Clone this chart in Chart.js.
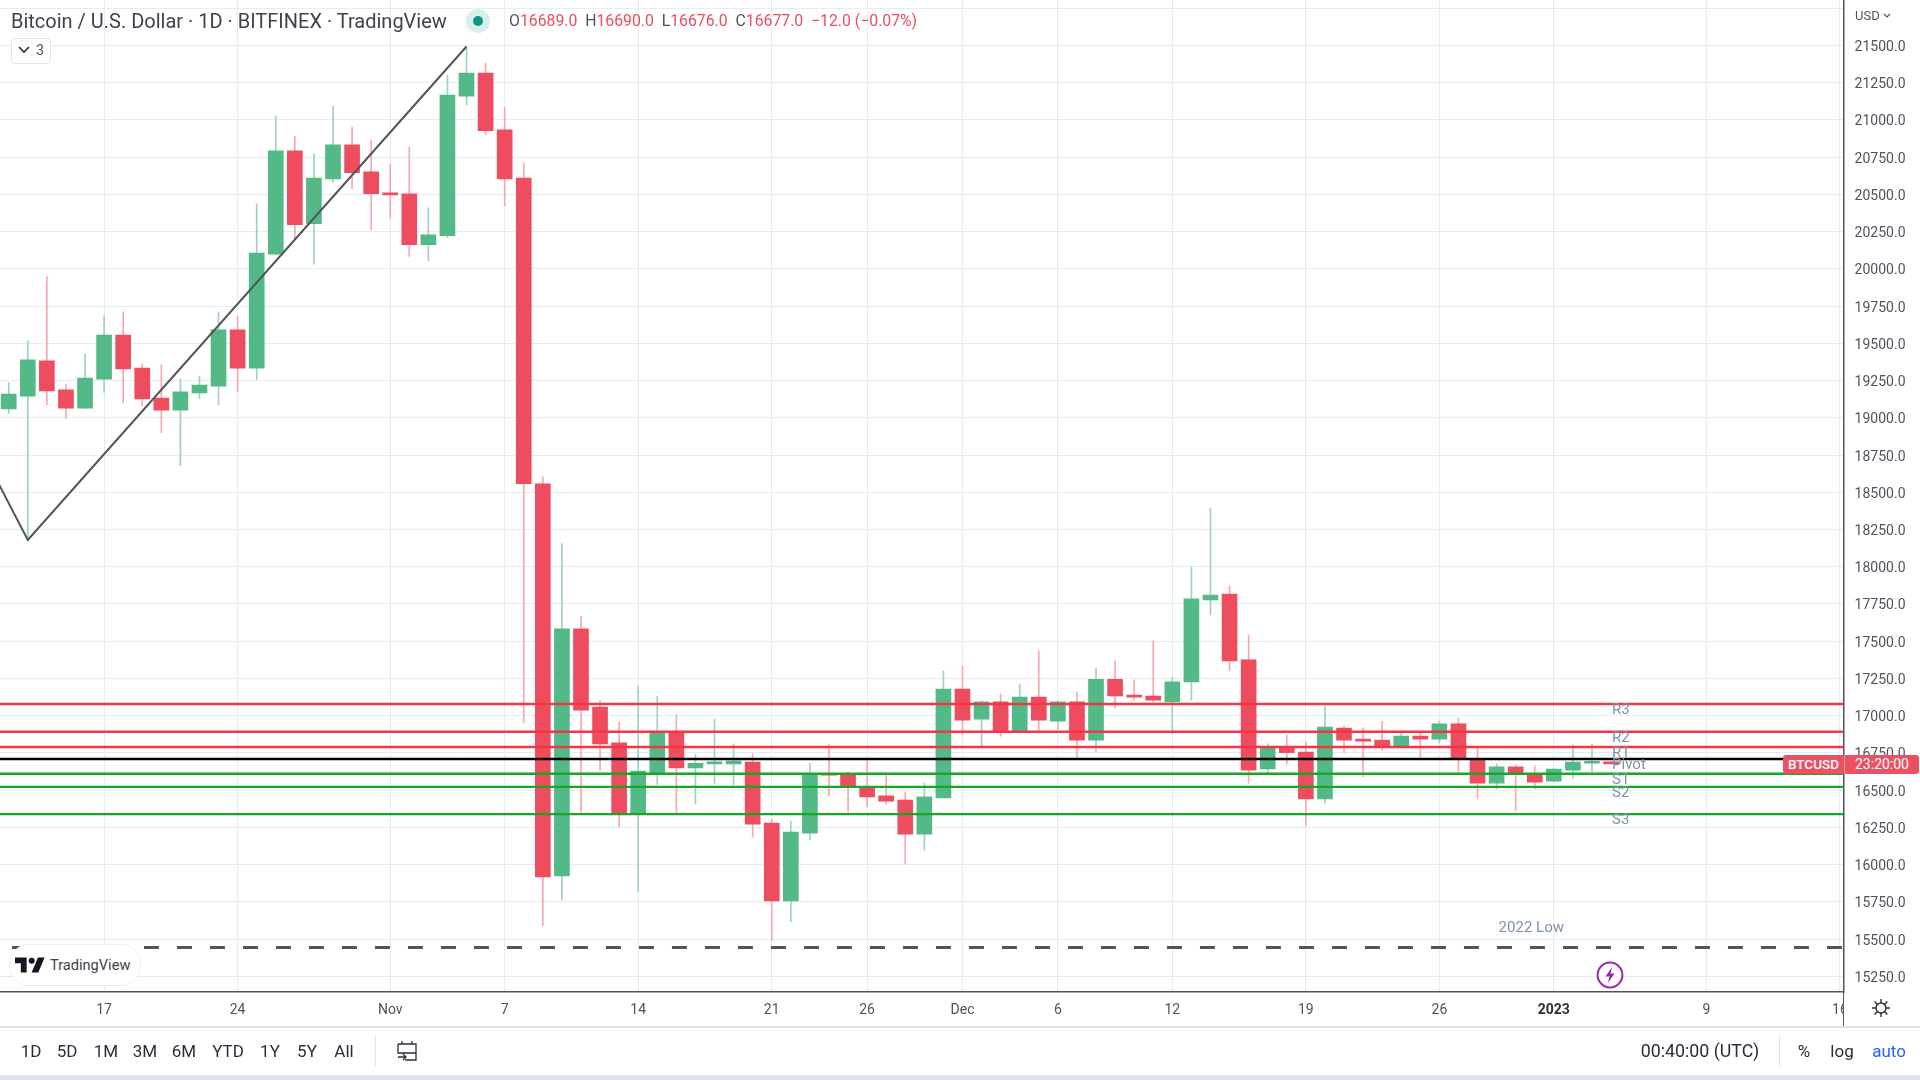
<!DOCTYPE html>
<html>
<head>
<meta charset="utf-8">
<title>BTCUSD</title>
<script src="https://cdn.jsdelivr.net/npm/chart.js@4/dist/chart.umd.js"></script>
<style>
    html, body { margin: 0; padding: 0; background: #fff; width: 1920px; height: 1080px; overflow: hidden; }
    body { position: relative; font-family: Roboto, sans-serif; color: #50535e; }
    canvas { position: absolute; left: 0; top: 0; }
    .abs { position: absolute; white-space: nowrap; }
    .red { color: #ee4d5f; }
    .tool { position: absolute; top: 1040px; font-size: 17px; line-height: 22px; color: #2a2e39; transform: translateX(-50%); }
</style>
</head>
<body>
<canvas id="chart" width="1920" height="1080"></canvas>

<!-- Legend -->
<div class="abs" style="left:11px;top:10px;font-size:20px;line-height:22px;color:#3f434d;">Bitcoin / U.S. Dollar · 1D · BITFINEX · TradingView</div>
<div class="abs" style="left:466px;top:9px;width:24px;height:24px;border-radius:12px;background:#d9efec;"></div>
<div class="abs" style="left:473px;top:16px;width:10px;height:10px;border-radius:5px;background:#089981;"></div>
<div class="abs" style="left:509px;top:11px;font-size:15.8px;line-height:20px;">O<span class="red">16689.0</span>&nbsp; H<span class="red">16690.0</span>&nbsp; L<span class="red">16676.0</span>&nbsp; C<span class="red">16677.0</span>&nbsp; <span class="red">−12.0 (−0.07%)</span></div>
<div class="abs" style="left:11px;top:38px;width:38px;height:24px;border:1px solid #e0e3eb;border-radius:4px;background:#fff;"></div>
<svg class="abs" style="left:18px;top:46px" width="12" height="8"><path d="M1 1 L6 6 L11 1" fill="none" stroke="#2a2e39" stroke-width="1.6"/></svg>
<div class="abs" style="left:36px;top:41px;font-size:14px;line-height:18px;">3</div>

<!-- Price axis extras -->
<div class="abs" style="left:1855px;top:8px;font-size:13px;line-height:16px;">USD</div>
<svg class="abs" style="left:1883px;top:13px" width="8" height="6"><path d="M1 1 L4 4 L7 1" fill="none" stroke="#50535e" stroke-width="1.2"/></svg>
<div class="abs" style="left:1783px;top:755px;width:61px;height:19px;background:#ee5063;border-radius:3px 0 0 3px;color:#fff;font-size:13.5px;font-weight:500;line-height:19px;text-align:center;">BTCUSD</div>
<div class="abs" style="left:1845px;top:755px;width:74px;height:19px;background:#ee5063;border-radius:0 3px 3px 0;color:#fff;font-size:14px;line-height:19px;text-align:center;">23:20:00</div>

<!-- TradingView badge -->
<div class="abs" style="left:9px;top:944px;width:130px;height:40px;border:1px solid #eceef2;border-radius:20px;background:#fff;"></div>
<svg class="abs" style="left:15px;top:957px" width="30" height="16" viewBox="0 0 36 18"><path d="M14 18H7V7H0V0h14v18zM28 18h-8l7.5-18h8L28 18z" fill="#131722"/><circle cx="20" cy="4" r="3.6" fill="#131722"/></svg>
<div class="abs" style="left:50px;top:955px;font-size:14.6px;line-height:20px;color:#3f434d;">TradingView</div>

<!-- Lightning badge -->
<svg class="abs" style="left:1596px;top:961px" width="28" height="28" viewBox="0 0 28 28"><circle cx="14" cy="14" r="12.4" fill="#fff" stroke="#9c27b0" stroke-width="2"/><path d="M16 6 L9.5 15.5 H13.5 L12 22 L18.5 12.5 H14.5 Z" fill="#9c27b0"/></svg>

<!-- Corner under the price axis -->
<div class="abs" style="left:1843px;top:993px;width:77px;height:33px;background:#fff;border-left:1.5px solid #50535e;box-sizing:border-box;"></div>
<svg class="abs" style="left:1871px;top:998px" width="20" height="20" viewBox="0 0 20 20"><circle cx="10" cy="10" r="5" fill="none" stroke="#2a2e39" stroke-width="1.4"/><path d="M10 1v4M10 15v4M1 10h4M15 10h4M3.6 3.6l2.8 2.8M13.6 13.6l2.8 2.8M3.6 16.4l2.8-2.8M13.6 6.4l2.8-2.8" stroke="#2a2e39" stroke-width="1.4"/></svg>

<!-- Bottom toolbar -->
<div class="abs" style="left:0;top:1026px;width:1920px;height:1.5px;background:#e0e3eb;"></div>
<div class="tool" style="left:31px">1D</div>
<div class="tool" style="left:67px">5D</div>
<div class="tool" style="left:106px">1M</div>
<div class="tool" style="left:145px">3M</div>
<div class="tool" style="left:184px">6M</div>
<div class="tool" style="left:228px">YTD</div>
<div class="tool" style="left:270px">1Y</div>
<div class="tool" style="left:307px">5Y</div>
<div class="tool" style="left:344px">All</div>
<div class="abs" style="left:375px;top:1036px;width:1px;height:30px;background:#e0e3eb;"></div>
<svg class="abs" style="left:396px;top:1040px" width="22" height="22" viewBox="0 0 22 22"><path d="M6 1v3M16 1v3M2 4h18v16H9M2 4v9h18M2 17h8M7 14l3 3-3 3" fill="none" stroke="#2a2e39" stroke-width="1.3"/></svg>
<div class="tool" style="left:1700px;font-size:17.8px">00:40:00 (UTC)</div>
<div class="abs" style="left:1779px;top:1036px;width:1px;height:30px;background:#e0e3eb;"></div>
<div class="tool" style="left:1804px">%</div>
<div class="tool" style="left:1842px">log</div>
<div class="tool" style="left:1889px;color:#2962ff">auto</div>
<div class="abs" style="left:0;top:1075px;width:1920px;height:5px;background:#e0e3eb;"></div>

<script>
// Candle data
const candleDates = [
    '2022-10-12','2022-10-13','2022-10-14','2022-10-15','2022-10-16','2022-10-17','2022-10-18','2022-10-19','2022-10-20','2022-10-21',
    '2022-10-22','2022-10-23','2022-10-24','2022-10-25','2022-10-26','2022-10-27','2022-10-28','2022-10-29','2022-10-30','2022-10-31',
    '2022-11-01','2022-11-02','2022-11-03','2022-11-04','2022-11-05','2022-11-06','2022-11-07','2022-11-08','2022-11-09','2022-11-10',
    '2022-11-11','2022-11-12','2022-11-13','2022-11-14','2022-11-15','2022-11-16','2022-11-17','2022-11-18','2022-11-19','2022-11-20',
    '2022-11-21','2022-11-22','2022-11-23','2022-11-24','2022-11-25','2022-11-26','2022-11-27','2022-11-28','2022-11-29','2022-11-30',
    '2022-12-01','2022-12-02','2022-12-03','2022-12-04','2022-12-05','2022-12-06','2022-12-07','2022-12-08','2022-12-09','2022-12-10',
    '2022-12-11','2022-12-12','2022-12-13','2022-12-14','2022-12-15','2022-12-16','2022-12-17','2022-12-18','2022-12-19','2022-12-20',
    '2022-12-21','2022-12-22','2022-12-23','2022-12-24','2022-12-25','2022-12-26','2022-12-27','2022-12-28','2022-12-29','2022-12-30',
    '2022-12-31','2023-01-01','2023-01-02','2023-01-03','2023-01-04'
];
const opens = [
    19059,19146,19382,19188,19065,19260,19556,19334,19133,19052,
    19167,19213,19590,19334,20099,20793,20303,20603,20832,20652,
    20511,20504,20162,20222,21160,21315,20934,20610,18557,15925,
    17583,17058,16818,16341,16607,16894,16649,16677,16677,16688,
    16279,15756,16212,16607,16605,16519,16462,16434,16205,16448,
    17178,16977,17093,16894,17125,16963,17093,16836,17245,17139,
    17132,17093,17227,17777,17817,17375,16642,16785,16755,16441,
    16917,16839,16836,16797,16864,16843,16945,16704,16547,16656,
    16603,16561,16635,16681,16689
];
const highs = [
    19234,19516,19949,19227,19429,19685,19711,19362,19355,19262,
    19280,19711,19683,20437,21026,20892,20772,21093,20952,20864,
    20705,20816,20409,21301,21482,21382,21084,20712,18603,18156,
    17669,17104,16959,17199,17132,17005,16737,16977,16811,16746,
    16307,16293,16681,16804,16625,16697,16605,16487,16547,17301,
    17333,17100,17146,17213,17435,17100,17160,17319,17368,17241,
    17502,17259,17999,18394,17870,17541,16811,16871,16822,17065,
    16931,16919,16963,16885,16885,16963,16984,16785,16677,16670,
    16663,16645,16802,16811,16690
];
const lows = [
    19031,18180,19089,18996,19065,19170,19100,19082,18901,18679,
    19128,19089,19174,19257,20099,20199,20032,20580,20538,20261,
    20342,20083,20055,20210,21100,20899,20425,16954,15590,15763,
    16353,16635,16254,15821,16538,16341,16406,16547,16536,16186,
    15490,15618,16168,16462,16353,16388,16406,16004,16099,16448,
    16873,16797,16862,16894,16894,16908,16714,16755,17051,17104,
    17093,16880,17104,17676,17301,16547,16607,16677,16260,16413,
    16751,16589,16765,16792,16723,16815,16614,16441,16508,16360,
    16508,16555,16582,16623,16676
];
const closes = [
    19160,19389,19181,19065,19267,19556,19329,19126,19052,19174,
    19220,19590,19334,20106,20793,20296,20610,20832,20645,20504,
    20497,20162,20229,21167,21315,20927,20603,18557,15918,17583,
    17037,16811,16341,16628,16889,16649,16681,16681,16695,16272,
    15756,16219,16607,16600,16526,16455,16427,16205,16455,17178,
    16970,17093,16889,17125,16970,17093,16836,17245,17132,17125,
    17104,17227,17784,17810,17368,16635,16785,16751,16441,16924,
    16836,16829,16790,16864,16843,16945,16714,16547,16656,16610,
    16554,16642,16688,16689,16677
];

// Axis ticks
const tickDates = ['2022-10-17','2022-10-24','2022-11-01','2022-11-07','2022-11-14','2022-11-21','2022-11-26','2022-12-01','2022-12-06','2022-12-12','2022-12-19','2022-12-26','2023-01-01','2023-01-09','2023-01-16'];
const tickLabels = ['17','24','Nov','7','14','21','26','Dec','6','12','19','26','2023','9','16'];
const priceTicks = [15250,15500,15750,16000,16250,16500,16750,17000,17250,17500,17750,18000,18250,18500,18750,19000,19250,19500,19750,20000,20250,20500,20750,21000,21250,21500,21750];

// Pivot levels and drawn lines
const levelNames = ['R3','R2','R1','Pivot','S1','S2','S3'];
const levelValues = [17079,16892,16790,16709,16610,16522,16339];
const levelColors = ['#f23645','#f23645','#f23645','#000000','#17a821','#17a821','#17a821'];
const lowValue = 15444;
const trendDates = ['2022-10-11T11:00:00Z','2022-10-13','2022-11-05'];
const trendValues = [18561,18180,21493];

function day(d) {
    return Date.parse(d) / 864e5;
}

const xMin = day('2022-10-17') - 5.457;
const xMax = day('2022-10-17') + 91.19;

const upColor = '#53b987', downColor = '#ee4d5f';
const upWick = '#9fcfc6', downWick = '#f6a8b1';

const isUp = closes.map((c, i) => c >= opens[i]);

function flatLine(value, color, width, from) {
    return {
        type: 'line',
        order: 0,
        data: [{ x: from, y: value }, { x: xMax, y: value }],
        borderColor: color,
        borderWidth: width,
        pointRadius: 0
    };
}

// Labels that sit on the pivot lines and the 2022 low
const levelLabels = {
    id: 'levelLabels',
    afterDatasetsDraw(chart) {
        const { ctx, scales } = chart;
        ctx.save();
        ctx.font = '15px Roboto';
        ctx.fillStyle = '#7f93a8';
        ctx.textBaseline = 'middle';
        const labelX = scales.x.getPixelForValue(day('2023-01-04')) + 1;
        levelNames.forEach((name, i) => {
            ctx.fillText(name, labelX, scales.y.getPixelForValue(levelValues[i]) + 6);
        });
        ctx.fillText('2022 Low', scales.x.getPixelForValue(day('2022-12-29')) + 2, scales.y.getPixelForValue(lowValue) - 19);
        ctx.restore();
    }
};

new Chart(document.getElementById('chart'), {
    type: 'bar',
    data: {
        datasets: [
            ...levelValues.map((v, i) => flatLine(v, levelColors[i], 2.4, xMin)),
            Object.assign(flatLine(lowValue, '#555555', 3, day('2022-10-12') + 0.17), { borderDash: [15, 18] }),
            {
                type: 'line',
                order: 0,
                data: trendDates.map((d, i) => ({ x: day(d), y: trendValues[i] })),
                borderColor: '#555555',
                borderWidth: 2,
                pointRadius: 0
            },
            {
                order: 1,
                grouped: false,
                barThickness: 15,
                minBarLength: 2,
                data: candleDates.map((d, i) => ({ x: day(d), y: [opens[i], closes[i]] })),
                backgroundColor: isUp.map(u => u ? upColor : downColor),
                borderWidth: 0
            },
            {
                order: 2,
                grouped: false,
                barThickness: 1,
                data: candleDates.map((d, i) => ({ x: day(d), y: [lows[i], highs[i]] })),
                backgroundColor: isUp.map(u => u ? upWick : downWick),
                borderWidth: 0
            }
        ]
    },
    options: {
        responsive: false,
        animation: false,
        events: [],
        layout: { padding: { left: 0, right: 0, top: 0, bottom: 54 } },
        plugins: { legend: { display: false }, tooltip: { enabled: false } },
        scales: {
            x: {
                type: 'linear',
                offset: false,
                min: xMin,
                max: xMax,
                afterBuildTicks: axis => { axis.ticks = tickDates.map(d => ({ value: day(d) })); },
                afterFit: axis => {
                    axis.height = 34;
                    axis.paddingLeft = 0;
                    axis.paddingRight = 0;
                },
                grid: { offset: false, color: '#e4edf3', lineWidth: 1, drawTicks: false },
                border: { color: '#50535e', width: 1.5 },
                ticks: {
                    autoSkip: false,
                    maxRotation: 0,
                    padding: 10,
                    color: ctx => tickLabels[ctx.index] === '2023' ? '#2a2e39' : '#50535e',
                    font: ctx => ({ family: 'Roboto', size: 14, weight: tickLabels[ctx.index] === '2023' ? 'bold' : 'normal' }),
                    callback: (value, index) => tickLabels[index]
                }
            },
            y: {
                position: 'right',
                min: 15145,
                max: 21805,
                afterBuildTicks: axis => { axis.ticks = priceTicks.map(v => ({ value: v })); },
                afterFit: axis => {
                    axis.width = 76.4;
                    axis.paddingTop = 0;
                    axis.paddingBottom = 0;
                },
                grid: { color: '#e4edf3', lineWidth: 1, drawTicks: false },
                border: { color: '#50535e', width: 1.5 },
                ticks: {
                    autoSkip: false,
                    padding: 11,
                    color: '#50535e',
                    // empty first line nudges the label down so it centres on its grid line
                    font: { family: 'Roboto', size: 14, lineHeight: '4px' },
                    callback: value => value > 21500 ? '' : ['', value.toFixed(1)]
                }
            }
        }
    },
    plugins: [levelLabels]
});
</script>
</body>
</html>
